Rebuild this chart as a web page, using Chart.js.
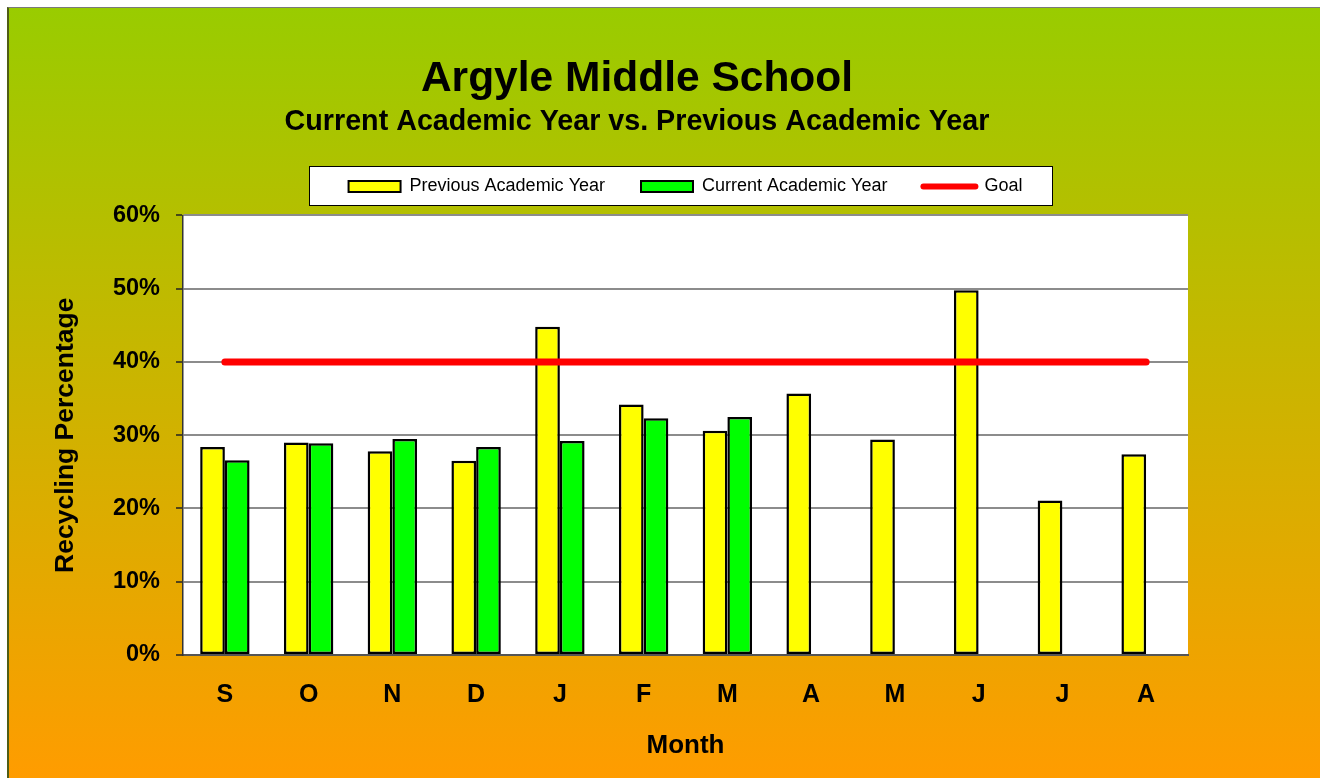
<!DOCTYPE html>
<html>
<head>
<meta charset="utf-8">
<script src="https://cdn.jsdelivr.net/npm/chart.js@4"></script>
<style>
  html, body { margin: 0; padding: 0; background: #fff; }
  #frame {
    position: absolute; left: 7px; top: 7px;
    width: 1311px; height: 770px;
    border-top: 1px solid #7a7a7a;
    border-left: 2px solid #4f5d16;
    background: linear-gradient(to bottom, #99cc00 0%, #ff9c00 100%);
  }
  canvas { display: block; }
</style>
</head>
<body>
<div id="frame"><canvas id="recycleChart" width="1311" height="770"></canvas></div>
<script>
// months of the academic year
const months = ["S", "O", "N", "D", "J", "F", "M", "A", "M", "J", "J", "A"];
// recycling percentage per month
const previousYear = [28.4, 29.0, 27.8, 26.5, 44.8, 34.2, 30.6, 35.7, 29.4, 49.8, 21.1, 27.4];
const currentYear = [26.6, 28.9, 29.5, 28.4, 29.2, 32.3, 32.5, null, null, null, null, null];
const goal = [40, 40, 40, 40, 40, 40, 40, 40, 40, 40, 40, 40];
const yTicks = [0, 10, 20, 30, 40, 50, 60];

const FONT = "'Liberation Sans', Arial, sans-serif";

// white plot area + boxed legend like the Excel original
const backdrop = {
  id: "backdrop",
  beforeDraw(chart) {
    const { ctx, chartArea: a, legend } = chart;
    ctx.save();
    ctx.fillStyle = "#fff";
    ctx.fillRect(a.left, a.top, a.right - a.left, a.bottom - a.top);
    const boxes = legend.legendHitBoxes || [];
    if (boxes.length) {
      const first = boxes[0], last = boxes[boxes.length - 1];
      const x0 = Math.round(first.left - 40), x1 = Math.round(last.left + last.width + 30);
      const yc = Math.round(first.top + first.height / 2);
      ctx.fillRect(x0, yc - 20, x1 - x0, 39);
      ctx.strokeStyle = "#000";
      ctx.lineWidth = 1;
      ctx.strokeRect(x0 + 0.5, yc - 19.5, x1 - x0, 39);
    }
    ctx.restore();
  }
};

const ctx = document.getElementById("recycleChart").getContext("2d");
new Chart(ctx, {
  type: "bar",
  data: {
    labels: months,
    datasets: [
      {
        label: "Previous Academic Year",
        data: previousYear,
        backgroundColor: "#ffff00",
        borderColor: "#000",
        borderWidth: 2.5,
        borderSkipped: false,
        categoryPercentage: 0.59,
        barPercentage: 1.0,
        order: 1
      },
      {
        label: "Current Academic Year",
        data: currentYear,
        backgroundColor: "#00ff00",
        borderColor: "#000",
        borderWidth: 2.5,
        borderSkipped: false,
        categoryPercentage: 0.59,
        barPercentage: 1.0,
        order: 1
      },
      {
        type: "line",
        label: "Goal",
        data: goal,
        borderColor: "#ff0000",
        backgroundColor: "#ff0000",
        borderWidth: 7,
        borderCapStyle: "round",
        pointRadius: 0,
        order: 0
      }
    ]
  },
  options: {
    responsive: false,
    animation: false,
    layout: { padding: { left: 10, right: 65, top: 0, bottom: 0 } },
    plugins: {
      tooltip: { enabled: false },
      title: {
        display: true,
        text: "Argyle Middle School",
        color: "#000",
        font: { family: FONT, size: 42.5, weight: "bold" },
        padding: { top: 46, bottom: 0 }
      },
      subtitle: {
        display: true,
        text: "Current Academic Year vs. Previous Academic Year",
        color: "#000",
        font: { family: FONT, size: 28.7, weight: "bold" },
        padding: { top: 0, bottom: 2 }
      },
      legend: {
        position: "top",
        fullSize: false,
        labels: {
          color: "#000",
          font: { family: FONT, size: 18 },
          usePointStyle: true,
          pointStyleWidth: 52,
          boxHeight: 11,
          padding: 36,
          sort: (a, b) => a.datasetIndex - b.datasetIndex,
          generateLabels(chart) {
            const items = Chart.defaults.plugins.legend.labels.generateLabels(chart);
            items.forEach((it) => {
              if (it.datasetIndex === 2) {
                it.pointStyle = "line";
                it.lineWidth = 6;
                it.strokeStyle = "#ff0000";
                it.lineCap = "round";
              } else {
                it.pointStyle = "rect";
                it.lineWidth = 2;
                it.strokeStyle = "#000";
              }
            });
            return items;
          }
        }
      }
    },
    scales: {
      x: {
        grid: { display: false, drawTicks: false },
        border: { color: "#555", width: 2 },
        ticks: { color: "#000", font: { family: FONT, size: 25, weight: "bold" }, padding: 25 },
        title: {
          display: true,
          text: "Month",
          color: "#000",
          font: { family: FONT, size: 26, weight: "bold" },
          padding: { top: 0, bottom: 17 }
        },
        afterFit: (s) => { s.height = 123; }
      },
      y: {
        min: 0,
        max: 60,
        afterBuildTicks: (s) => { s.ticks = yTicks.map((v) => ({ value: v })); },
        grid: { color: "#8c8c8c", lineWidth: 2, tickLength: 7, tickColor: "#222", tickWidth: 1.5 },
        border: { color: "#333", width: 1.5 },
        ticks: {
          color: "#000",
          font: { family: FONT, size: 23.5, weight: "bold" },
          padding: 16,
          callback: (v) => v + "%"
        },
        title: {
          display: true,
          text: "Recycling Percentage",
          color: "#000",
          font: { family: FONT, size: 26.5, weight: "bold" },
          padding: { top: 31, bottom: 0 }
        },
        afterFit: (s) => { s.width = 164; }
      },
      // empty spacer boxes that reproduce the original's margins
      spacerTop: {
        type: "category",
        position: "top",
        grid: { display: false, drawTicks: false },
        border: { display: false },
        ticks: { display: false },
        afterFit: (s) => { s.height = 10; }
      },
      spacerRight: {
        type: "linear",
        position: "right",
        grid: { display: false, drawTicks: false },
        border: { display: false },
        ticks: { display: false },
        afterFit: (s) => { s.width = 67; }
      }
    }
  },
  plugins: [backdrop]
});
</script>
</body>
</html>
